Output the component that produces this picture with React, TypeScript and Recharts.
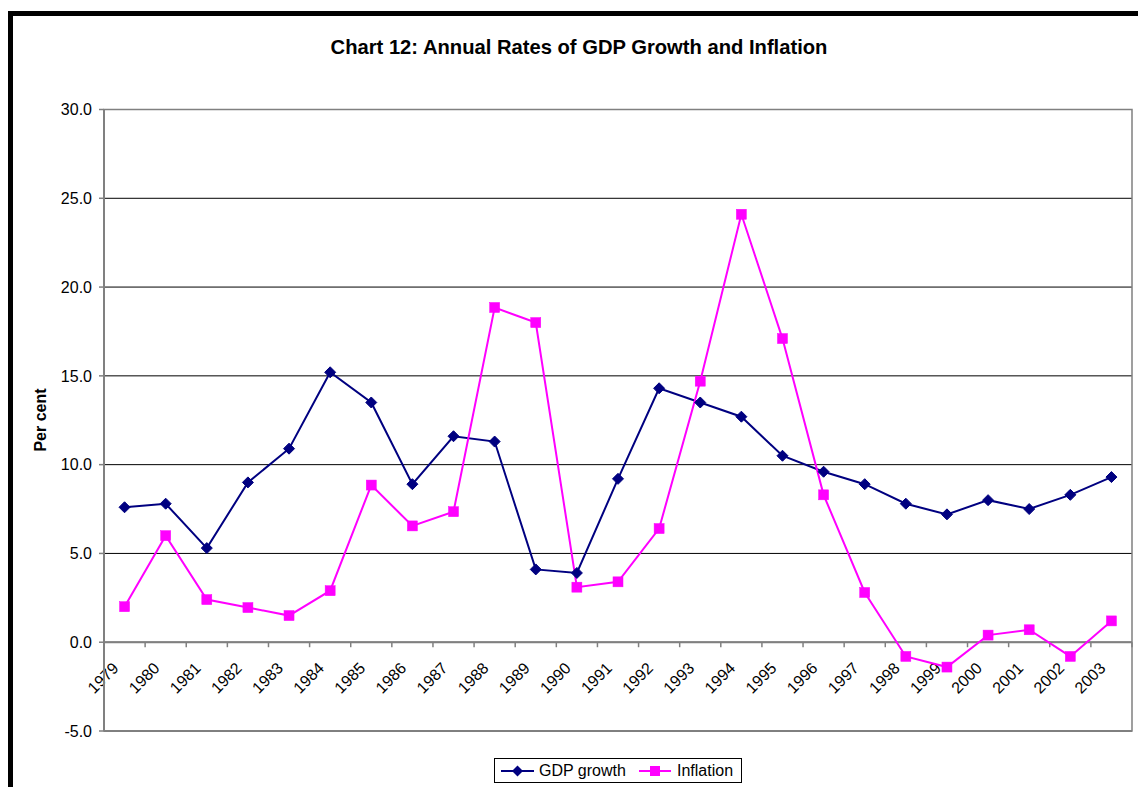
import React from 'react';
import { ComposedChart, Line, XAxis, YAxis, CartesianGrid, ReferenceLine, ReferenceArea } from 'recharts';

const years = ['1979', '1980', '1981', '1982', '1983', '1984', '1985', '1986', '1987', '1988', '1989', '1990', '1991', '1992', '1993', '1994', '1995', '1996', '1997', '1998', '1999', '2000', '2001', '2002', '2003'];
const gdpGrowth = [7.6, 7.8, 5.3, 9.0, 10.9, 15.2, 13.5, 8.9, 11.6, 11.3, 4.1, 3.9, 9.2, 14.3, 13.5, 12.7, 10.5, 9.6, 8.9, 7.8, 7.2, 8.0, 7.5, 8.3, 9.3];
const inflation = [2.0, 6.0, 2.4, 1.95, 1.5, 2.9, 8.85, 6.55, 7.35, 18.85, 18.0, 3.1, 3.4, 6.4, 14.7, 24.1, 17.1, 8.3, 2.8, -0.8, -1.4, 0.4, 0.7, -0.8, 1.2];
const yTicks = [-5, 0, 5, 10, 15, 20, 25, 30];

const data = years.map((year, i) => ({ year, gdp: gdpGrowth[i], inflation: inflation[i] }));

const FONT = 'Arial, "Liberation Sans", Helvetica, sans-serif';
const NAVY = '#000080';
const MAGENTA = '#FF00FF';

const Diamond = (props: any) => {
  const { cx, cy, index } = props;
  if (cx == null || cy == null) return null;
  const r = 5.5;
  return (
    <path
      key={`gd-${index}`}
      d={`M${cx},${cy - r}L${cx + r},${cy}L${cx},${cy + r}L${cx - r},${cy}Z`}
      fill={NAVY}
      stroke={NAVY}
      strokeWidth={1}
    />
  );
};

const Square = (props: any) => {
  const { cx, cy, index } = props;
  if (cx == null || cy == null) return null;
  return <rect key={`in-${index}`} x={cx - 5} y={cy - 5} width={10} height={10} fill={MAGENTA} stroke={MAGENTA} strokeWidth={0.5} />;
};

const ZeroAxisLabels = (props: any) => {
  const vb = props.viewBox || props;
  const x0 = vb.x;
  const w = vb.width;
  const y0 = vb.y;
  const n = years.length;
  const step = w / n;
  return (
    <g>
      {Array.from({ length: n + 1 }, (_, k) => (
        <line key={`t${k}`} x1={x0 + step * k} x2={x0 + step * k} y1={y0} y2={y0 + 5} stroke="#808080" strokeWidth={1.5} />
      ))}
      {years.map((yr, i) => {
        const cx = x0 + step * (i + 0.5) - 5;
        const cy = y0 + 27;
        return (
          <text
            key={`l${i}`}
            x={cx}
            y={cy}
            textAnchor="end"
            transform={`rotate(-45, ${cx}, ${cy})`}
            fontSize={16}
            fontFamily={FONT}
            fill="#000"
          >
            {yr}
          </text>
        );
      })}
    </g>
  );
};

export default function App() {
  return (
    <div
      style={{
        position: 'fixed',
        left: 8,
        top: 11,
        width: 1140,
        height: 790,
        borderTop: '5px solid #000',
        borderLeft: '5px solid #000',
        overflow: 'hidden',
        background: '#fff',
        fontFamily: FONT,
      }}
    >
      <div
        style={{
          position: 'absolute',
          left: 0,
          top: 20,
          width: 1132,
          textAlign: 'center',
          fontSize: 20.2,
          lineHeight: '23px',
          fontWeight: 'bold',
          color: '#000',
        }}
      >
        Chart 12: Annual Rates of GDP Growth and Inflation
      </div>
      <div
        style={{
          position: 'absolute',
          left: 27.5 - 50,
          top: 403.5 - 10,
          width: 100,
          height: 20,
          lineHeight: '20px',
          textAlign: 'center',
          fontSize: 16,
          fontWeight: 'bold',
          transform: 'rotate(-90deg)',
          color: '#000',
        }}
      >
        Per cent
      </div>
      <div style={{ position: 'absolute', left: 0, top: 0 }}>
        <ComposedChart width={1125} height={770} data={data} margin={{ top: 93.5, right: 6, bottom: 55, left: 31 }}>
          <CartesianGrid vertical={false} stroke="#000" strokeWidth={1} />
          <XAxis dataKey="year" type="category" scale="band" hide />
          <YAxis
            width={60}
            domain={[-5, 30]}
            ticks={yTicks}
            interval={0}
            allowDataOverflow
            tickFormatter={(v: number) => v.toFixed(1)}
            tick={{ fontSize: 16, fontFamily: FONT, fill: '#000' }}
            axisLine={{ stroke: '#808080', strokeWidth: 2 }}
            tickLine={{ stroke: '#808080', strokeWidth: 1.5 }}
            tickSize={5}
            tickMargin={7}
          />
          <ReferenceArea y1={-5} y2={30} fill="none" stroke="#808080" strokeWidth={1.5} ifOverflow="visible" />
          <ReferenceLine y={0} stroke="#808080" strokeWidth={2} label={(p: any) => <ZeroAxisLabels {...p} />} />
          <Line type="linear" dataKey="gdp" stroke={NAVY} strokeWidth={2} dot={Diamond} activeDot={false} isAnimationActive={false} />
          <Line type="linear" dataKey="inflation" stroke={MAGENTA} strokeWidth={2} dot={Square} activeDot={false} isAnimationActive={false} />
        </ComposedChart>
      </div>
      <div
        style={{
          position: 'absolute',
          left: 494 - 13,
          top: 758 - 16,
          width: 246,
          height: 23,
          border: '1px solid #000',
          background: '#fff',
        }}
      >
        <svg width={246} height={23} style={{ position: 'absolute', left: 0, top: 0 }}>
          <line x1={6} x2={39} y1={12} y2={12} stroke={NAVY} strokeWidth={2} />
          <path d="M22.5,6.5L28,12L22.5,17.5L17,12Z" fill={NAVY} />
          <line x1={144} x2={176} y1={12} y2={12} stroke={MAGENTA} strokeWidth={2} />
          <rect x={155} y={7} width={10} height={10} fill={MAGENTA} />
        </svg>
        <span style={{ position: 'absolute', left: 44, top: 0, fontSize: 16, lineHeight: '23px', whiteSpace: 'nowrap' }}>GDP growth</span>
        <span style={{ position: 'absolute', left: 182, top: 0, fontSize: 16, lineHeight: '23px', whiteSpace: 'nowrap' }}>Inflation</span>
      </div>
    </div>
  );
}
